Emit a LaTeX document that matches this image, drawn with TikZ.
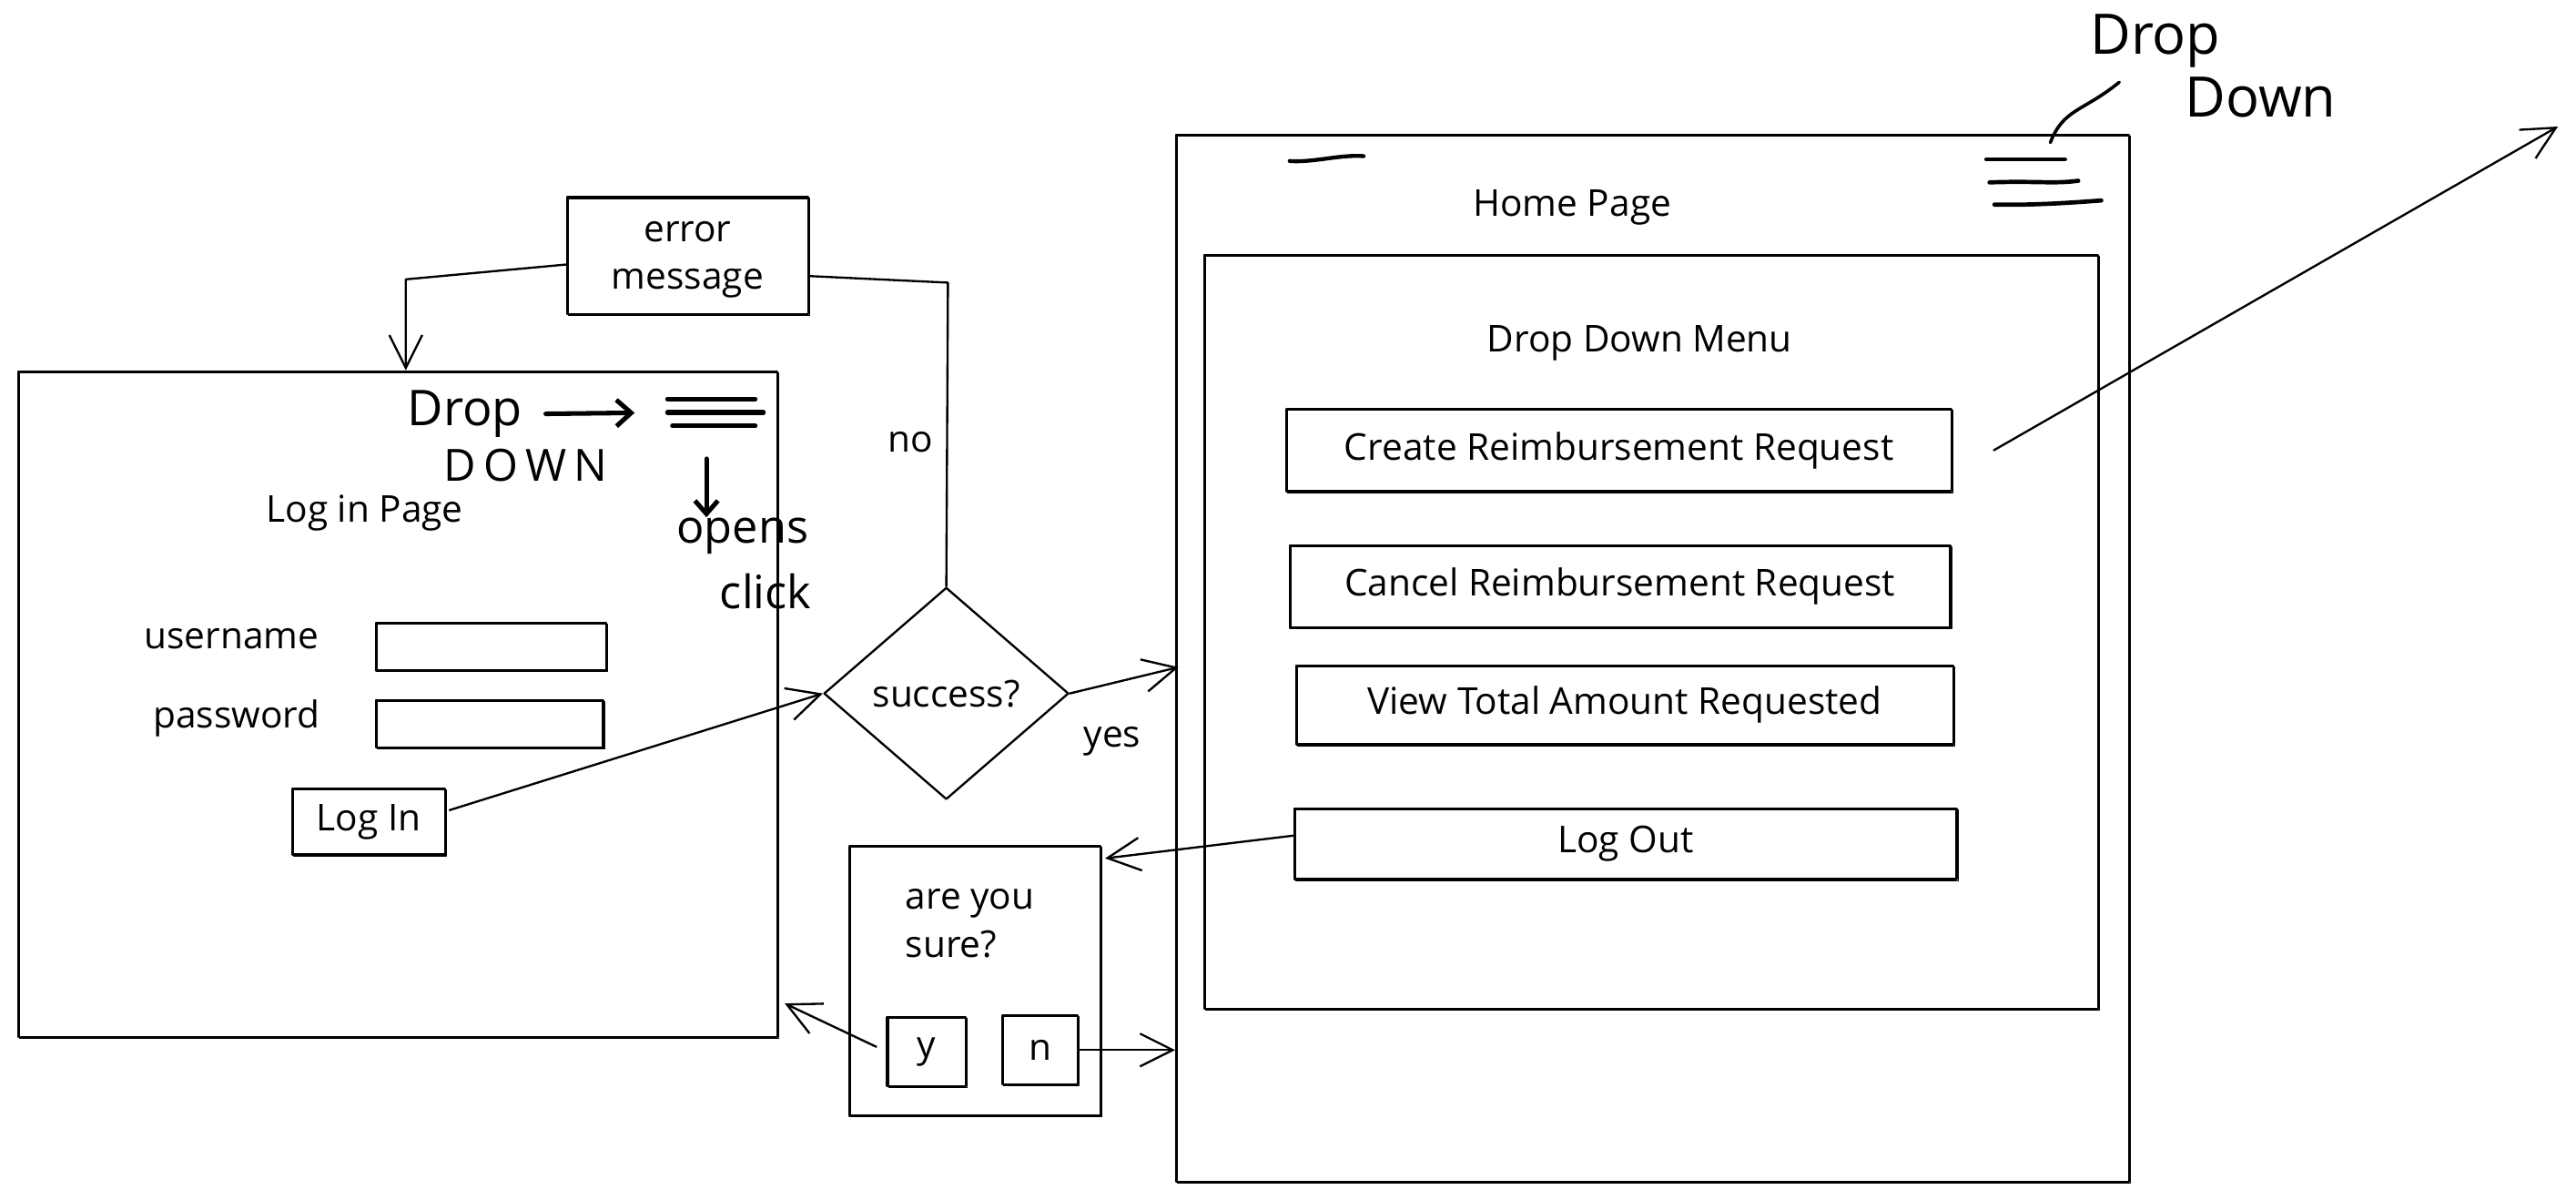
\documentclass[tikz,border=0pt]{standalone}
\usepackage{fontspec}
\setmainfont{Open Sans}
\usetikzlibrary{arrows.meta,shapes.geometric}

\begin{document}
\begin{tikzpicture}[x=1pt,y=-1pt,line join=round,line cap=round,
  every node/.style={font=\fontsize{22.5}{29}\selectfont},
  frame/.style={draw,line width=1.3pt,inner sep=0pt,
    postaction={draw,line width=0.6pt,transform canvas={shift={(0.9pt,-0.8pt)}}}},
  lbl/.style={inner sep=0pt},
  scrawl/.style={line width=2.8pt},
  scrawltext/.style={inner sep=0pt,font=\fontsize{30}{34}\selectfont},
  arr/.style={line width=1.3pt,-{Straight Barb[length=20pt,width=20pt,line width=1.3pt]}},
  conn/.style={line width=1.3pt}]

\useasboundingbox (0,0) rectangle (1568,730);

% ---------- log in page ----------
\node[frame,minimum width=462pt,minimum height=405pt] (login) at (242,428.5) {};
\node[lbl] (logintitle) at (222,312) {Log in Page};
\node[lbl] (userl) at (141,389) {username};
\node[lbl] (passl) at (144,437) {password};
\node[frame,minimum width=140pt,minimum height=29pt] (userf) at (299,393.5) {};
\node[frame,minimum width=138pt,minimum height=29pt] (passf) at (298,440.5) {};
\node[frame,minimum width=93pt,minimum height=40pt] (logbtn) at (224.5,500) {Log In};

% menu icon with its scribbled notes
\node[scrawltext] (dropL) at (283,252) {Drop};
\node[scrawltext,font=\fontsize{27}{30}\selectfont] (downL) at (320,283) {D\,O\,W\,N};
\node[inner sep=0pt,minimum width=53pt,minimum height=18pt] (hamL) at (433,251) {};
\draw[scrawl] ([yshift=-1pt]hamL.north west) -- ([yshift=-1pt]hamL.north east);
\draw[scrawl] (hamL.west) -- ([xshift=5pt]hamL.east);
\draw[scrawl] ([xshift=3pt,yshift=1pt]hamL.south west) -- ([yshift=1pt]hamL.south east);
\draw[scrawl,-{Straight Barb[length=9pt,width=16pt,line width=2.8pt]},shorten <=14pt,shorten >=20pt]
  (dropL.east) -- (hamL.west);
\node[scrawltext,font=\fontsize{28}{32}\selectfont] (opens) at (452,326) {opens};
\node[scrawltext,font=\fontsize{28}{32}\selectfont] (click) at (466,360) {click};
\coordinate (dA) at ([xshift=-3pt,yshift=-19pt]hamL.south);
\draw[scrawl,-{Straight Barb[length=8pt,width=14pt,line width=2.8pt]}]
  (dA) -- (dA |- opens.north);

% ---------- error message and decision ----------
\node[frame,minimum width=147pt,minimum height=71pt,align=center] (err) at (418.5,155.5) {};
\node[lbl,align=center] (errtxt) at (418.5,158) {error\\message};
\node[draw,line width=1.3pt,diamond,inner sep=0pt,minimum width=149pt,minimum height=129pt] (dia) at (576,422) {success?};
\coordinate (e1) at (247,170);
\coordinate (n1) at (577,172);
\draw[arr] ([yshift=-5.5pt]err.west) -- (e1) -- (e1 |- login.north);
\draw[conn] ([yshift=-12.5pt]err.east) -- (n1) -- (dia.north);
\node[lbl] (nolbl) at (554,269) {no};
\draw[arr] ([xshift=2pt,yshift=7pt]logbtn.east) -- (dia.west);

% ---------- home page ----------
\node[frame,minimum width=580pt,minimum height=637pt] (home) at (1006,400.5) {};
\node[lbl] (hometitle) at (957,126) {Home Page};
\draw[line width=2.4pt] (785,98) .. controls (800,99) and (815,94) .. (830,95);
\node[inner sep=0pt,minimum width=70pt,minimum height=27pt] (hamH) at (1244,110.5) {};
\draw[line width=2.4pt] (1209,97) -- (1257,97);
\draw[line width=2.6pt] (1211,111) .. controls (1240,110) and (1250,112) .. (1265,110);
\draw[line width=2.6pt] (1214,124.5) .. controls (1240,125) and (1265,123) .. (1279,122);
\coordinate (cS) at ([xshift=4pt,yshift=10pt]hamH.north);
\node[frame,minimum width=544pt,minimum height=459pt] (menu) at (1005,384.5) {};
\node[lbl] (menutitle) at (998,209) {Drop Down Menu};
\node[frame,minimum width=405pt,minimum height=50pt] (create) at (985.5,274) {Create Reimbursement Request};
\node[frame,minimum width=402pt,minimum height=50pt] (cancel) at (986,357) {Cancel Reimbursement Request};
\node[frame,minimum width=400pt,minimum height=48pt] (view) at (989,429) {View Total Amount Requested};
\node[frame,minimum width=403pt,minimum height=43pt] (logout) at (989.5,513.5) {Log Out};

% scribbled note above the home page menu icon
\node[scrawltext,font=\fontsize{34}{38}\selectfont] (dropT) at (1312,25) {Drop};
\node[scrawltext,font=\fontsize{34}{38}\selectfont] (downT) at (1376,59) {Down};
\coordinate (cE) at (1290,50);
\draw[line width=2pt] (cS) .. controls (1256,66) and (1268,68) .. (cE);

% far arrow from the first menu entry
\coordinate (far) at (1557,77);
\draw[arr] ([xshift=25pt]create.east) -- (far);

\draw[arr] (dia.east) -- ([xshift=2pt,yshift=-5.5pt]home.west);
\node[lbl] (yeslbl) at (677,451) {yes};

% ---------- confirmation dialog ----------
\node[frame,minimum width=153pt,minimum height=164pt] (sure) at (593.5,597) {};
\node[lbl,anchor=north west,align=left] (suretxt) at (551,541) {are you\\sure?};
\node[frame,minimum width=48pt,minimum height=42pt] (ybtn) at (564,640) {y};
\node[frame,minimum width=46pt,minimum height=42pt] (nbtn) at (633,639) {n};
\draw[arr] ([yshift=5pt]logout.west) -- ([xshift=2pt,yshift=-8pt]sure.north east);
\draw[arr] ([xshift=-6pt,yshift=3pt]ybtn.west) -- ([xshift=4pt,yshift=21pt]login.south east);
\draw[arr] (nbtn.east) -- (home.west |- nbtn.east);

\end{tikzpicture}
\end{document}
